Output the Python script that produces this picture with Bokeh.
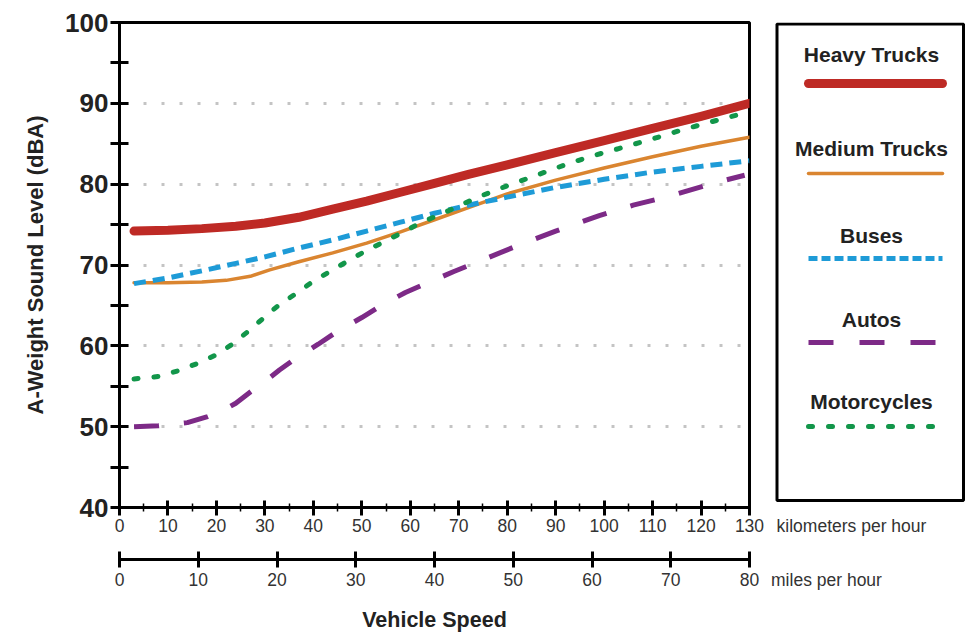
from bokeh.plotting import figure
from bokeh.models import Range1d, LinearAxis, FixedTicker
from bokeh.layouts import row
from bokeh.core.properties import value
from bokeh.embed import file_html
from bokeh.resources import INLINE

FONT = "Liberation Sans"

# ---- data (km/h vs dBA) ----
heavy_kmh = [3, 10, 17, 24, 30, 37, 44, 51, 58, 65, 72, 80, 90, 100, 110, 120, 130]
heavy_dba = [74.2, 74.3, 74.5, 74.8, 75.2, 75.9, 76.9, 77.9, 79.0, 80.1, 81.2, 82.4, 83.9, 85.4, 86.9, 88.4, 90.0]

medium_kmh = [3, 10, 17, 22, 27, 31, 37, 44, 51, 58, 65, 72, 80, 90, 100, 110, 120, 130]
medium_dba = [67.8, 67.8, 67.9, 68.1, 68.6, 69.4, 70.4, 71.5, 72.7, 74.1, 75.6, 77.1, 78.8, 80.5, 82.0, 83.4, 84.7, 85.8]

buses_kmh = [3, 10, 18, 24, 30, 37, 44, 51, 58, 65, 72, 80, 90, 100, 110, 120, 130]
buses_dba = [67.7, 68.4, 69.4, 70.2, 71.0, 72.1, 73.1, 74.2, 75.3, 76.4, 77.4, 78.4, 79.6, 80.6, 81.5, 82.2, 82.9]

autos_kmh = [3, 8, 14, 18, 21, 24, 27, 30, 33, 36, 41, 45, 50, 54, 59, 64, 69, 76, 83, 90, 99, 106, 114, 123, 129]
autos_dba = [50.0, 50.1, 50.5, 51.2, 51.9, 52.9, 54.3, 55.6, 57.0, 58.3, 60.2, 61.8, 63.5, 65.0, 66.6, 67.9, 69.2, 70.9, 72.6, 74.2, 76.1, 77.4, 78.6, 80.2, 81.1]

moto_kmh = [3, 8, 12, 16, 20, 23, 27, 30, 33, 37, 40, 44, 48, 51, 55, 59, 62, 66, 70, 74, 80, 86, 92, 97, 103, 110, 116, 122, 129]
moto_dba = [55.9, 56.2, 56.9, 57.8, 58.9, 60.1, 62.0, 63.6, 65.1, 66.7, 68.0, 69.4, 70.8, 71.8, 73.0, 74.2, 75.2, 76.2, 77.3, 78.4, 79.8, 81.1, 82.4, 83.4, 84.4, 85.6, 86.7, 87.7, 88.8]

series_names = ["Heavy Trucks", "Medium Trucks", "Buses", "Autos", "Motorcycles"]

y_ticks = [40, 50, 60, 70, 80, 90, 100]
y_minor = [45, 55, 65, 75, 85, 95]
grid_ticks = [50, 60, 70, 80, 90]
km_ticks = [0, 10, 20, 30, 40, 50, 60, 70, 80, 90, 100, 110, 120, 130]
km_minor = [5, 15, 25, 35, 45, 55, 65, 75, 85, 95, 105, 115, 125]
mph_ticks = [0, 10, 20, 30, 40, 50, 60, 70, 80]
km_unit = "kilometers per hour"
mph_unit = "miles per hour"

# ---- styles ----
styles = [
    dict(color="#BE2A25", width=9, dash="solid", cap="round", ldash="solid"),
    dict(color="#DA8530", width=3.5, dash="solid", cap="round", ldash="solid"),
    dict(color="#1E9BD7", width=5, dash="12 7", cap="butt", ldash="9 4"),
    dict(color="#7D2A87", width=5, dash="25 25", cap="butt", ldash="25 26"),
    dict(color="#12964A", width=5, dash="4 16", cap="round", ldash="4 16"),
]
series = [(heavy_kmh, heavy_dba), (medium_kmh, medium_dba), (buses_kmh, buses_dba),
          (autos_kmh, autos_dba), (moto_kmh, moto_dba)]

H = 642
TOP = 22
BOTTOM = 135


def style_km_axis(ax):
    ax.axis_line_width = 3
    ax.major_tick_in = 7
    ax.major_tick_out = 8
    ax.minor_tick_in = 4
    ax.minor_tick_out = 4
    ax.major_tick_line_width = 3
    ax.minor_tick_line_width = 1.5
    ax.major_label_text_font = FONT
    ax.major_label_text_font_size = "17.5px"
    ax.major_label_text_color = "#333333"
    ax.major_label_standoff = 3
    ax.axis_label = " "
    ax.axis_label_text_font_size = "12px"
    ax.axis_label_standoff = 8


def style_mph_axis(ax):
    ax.axis_line_width = 3
    ax.major_tick_in = 8
    ax.major_tick_out = 8
    ax.major_tick_line_width = 3
    ax.minor_tick_line_color = None
    ax.major_label_text_font = FONT
    ax.major_label_text_font_size = "17.5px"
    ax.major_label_text_color = "#333333"
    ax.major_label_standoff = 5
    ax.axis_label = "Vehicle Speed"
    ax.axis_label_text_font = FONT
    ax.axis_label_text_font_size = "21.5px"
    ax.axis_label_text_font_style = "bold"
    ax.axis_label_text_color = "#222222"
    ax.axis_label_standoff = 19


# ---- main chart ----
p = figure(width=770, height=H, x_range=Range1d(0, 130), y_range=Range1d(40, 100),
           output_backend="svg", toolbar_location=None,
           min_border_left=119, min_border_right=21, min_border_top=TOP, min_border_bottom=BOTTOM)
p.outline_line_color = "black"
p.outline_line_width = 3
p.background_fill_color = "white"
p.border_fill_color = "white"

p.xgrid.visible = False
p.ygrid[0].ticker = FixedTicker(ticks=grid_ticks)
p.ygrid.grid_line_color = "#c4c4c4"
p.ygrid.grid_line_width = 3
p.ygrid.grid_line_dash = "3 15"
p.ygrid.grid_line_dash_offset = 12

ya = p.yaxis[0]
ya.ticker = FixedTicker(ticks=y_ticks, minor_ticks=y_minor)
ya.axis_line_width = 3
ya.major_tick_in = 9
ya.major_tick_out = 9
ya.minor_tick_in = 9
ya.minor_tick_out = 9
ya.major_tick_line_width = 3
ya.minor_tick_line_width = 3
ya.major_label_text_font = FONT
ya.major_label_text_font_size = "26px"
ya.major_label_text_font_style = "bold"
ya.major_label_text_color = "#222222"
ya.major_label_standoff = 2
ya.axis_label = "A-Weight Sound Level (dBA)"
ya.axis_label_text_font = FONT
ya.axis_label_text_font_size = "22px"
ya.axis_label_text_font_style = "bold"
ya.axis_label_text_color = "#222222"
ya.axis_label_standoff = 14

xa = p.xaxis[0]
xa.ticker = FixedTicker(ticks=km_ticks, minor_ticks=km_minor)
style_km_axis(xa)

p.extra_x_ranges = {"mph": Range1d(0, 80)}
ma = LinearAxis(x_range_name="mph", ticker=FixedTicker(ticks=mph_ticks))
style_mph_axis(ma)
p.add_layout(ma, "below")

for (xs, ys), st in zip(series, styles):
    p.line(xs, ys, line_color=st["color"], line_width=st["width"], line_dash=st["dash"],
           line_cap=st["cap"], line_join="round")

# ---- legend panel (coordinates = page pixels) ----
leg = figure(width=195, height=H, x_range=Range1d(770, 965), y_range=Range1d(H - BOTTOM, TOP),
             output_backend="svg", toolbar_location=None,
             x_axis_location=None, y_axis_location=None,
             min_border=0, min_border_left=0, min_border_right=0,
             min_border_top=TOP, min_border_bottom=BOTTOM)
leg.outline_line_color = None
leg.grid.visible = False
leg.background_fill_color = "white"
leg.border_fill_color = "white"

leg.quad(left=[776.5], right=[963], top=[23.5], bottom=[500], fill_color=None,
         line_color="black", line_width=3)

text_y = [54, 148, 235, 319, 401]
line_y = [83, 173, 258, 342, 426]
for name, st, ty, ly in zip(series_names, styles, text_y, line_y):
    leg.text(x=[871], y=[ty], text=[name], text_align="center", text_baseline="middle",
             text_font=value(FONT), text_font_style="bold", text_font_size="21px",
             text_color="#222222")
    leg.line(x=[808, 942], y=[ly, ly], line_color=st["color"], line_width=st["width"],
             line_dash=st["ldash"], line_cap=st["cap"])

# unit captions: invisible axes carrying a single tick label each
ka = LinearAxis(ticker=FixedTicker(ticks=[851]), major_label_overrides={851: km_unit})
style_km_axis(ka)
ka.major_label_standoff = 0
ka.axis_label_standoff = 3
ka.axis_label_text_font_size = "11px"
ka.axis_line_alpha = 0
ka.major_tick_line_alpha = 0
ka.minor_tick_line_alpha = 0
leg.add_layout(ka, "below")

mu = LinearAxis(ticker=FixedTicker(ticks=[826]), major_label_overrides={826: mph_unit})
style_mph_axis(mu)
mu.axis_label = None
mu.axis_line_alpha = 0
mu.major_tick_line_alpha = 0
leg.add_layout(mu, "below")

layout = row(p, leg)
open("out.html", "w").write(file_html(layout, INLINE))
